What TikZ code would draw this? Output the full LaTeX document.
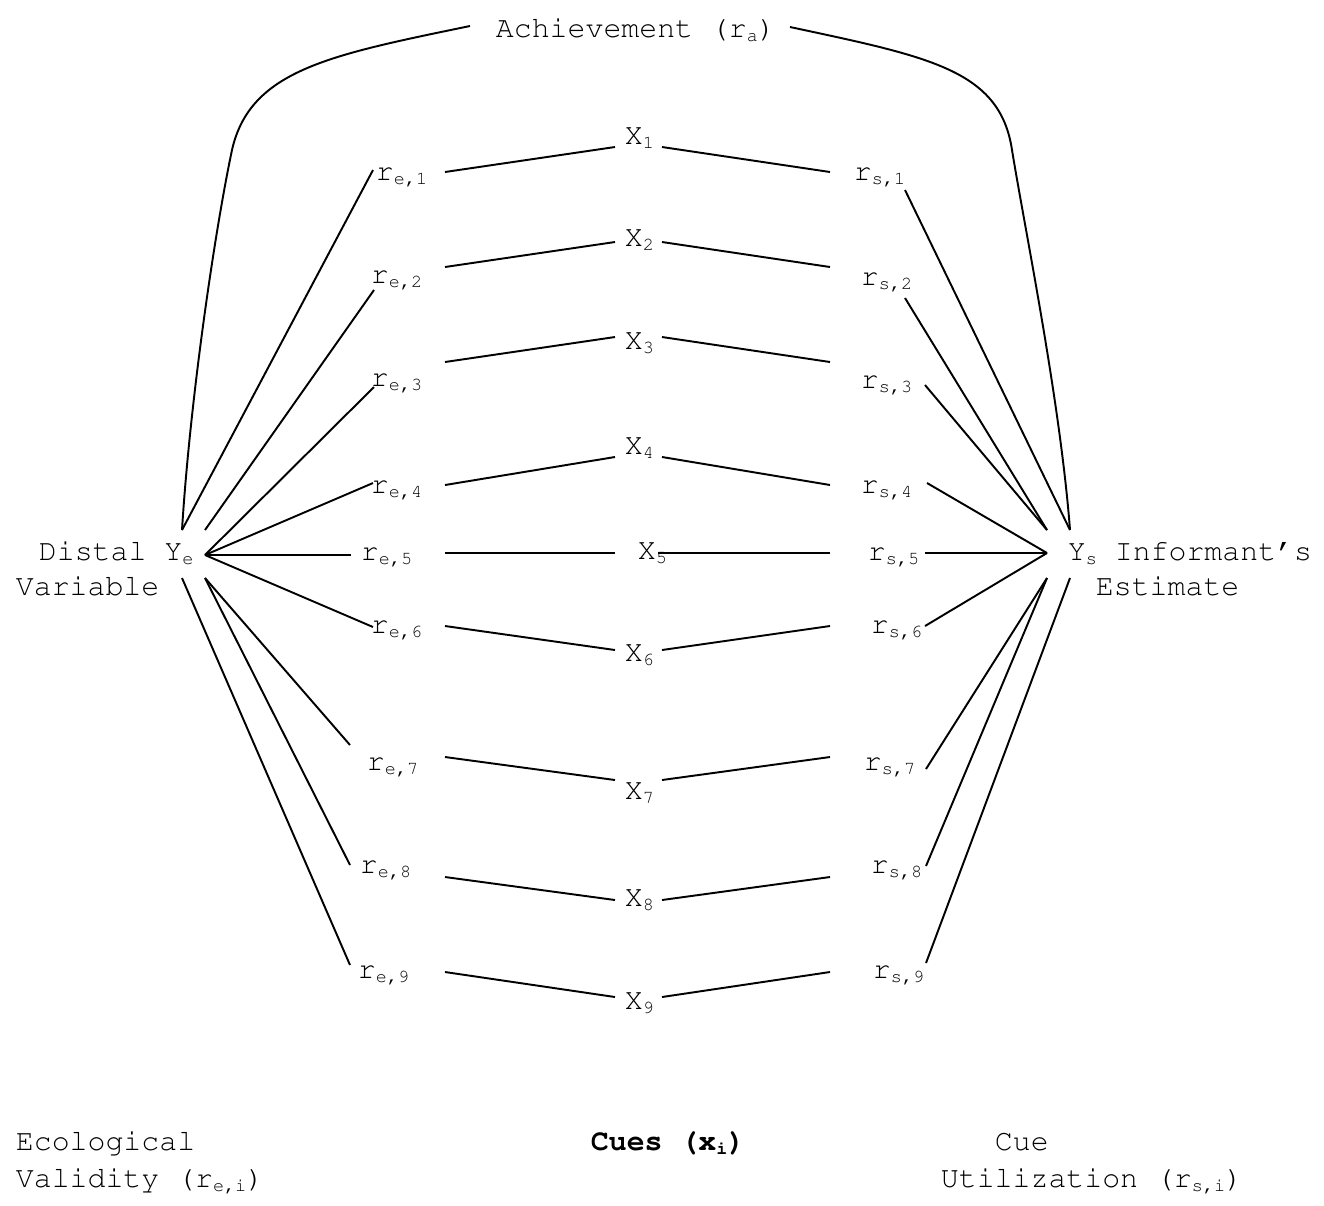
\documentclass[tikz,border=0pt]{standalone}
\usepackage[T1]{fontenc}
\usepackage{courier}
\renewcommand{\familydefault}{\ttdefault}
\usepackage{tikz}

\newcommand{\lowsub}[1]{\raisebox{-2.5pt}{\fontsize{10.5}{12}\selectfont #1}}

\begin{document}
\begin{tikzpicture}[x=0.02cm,y=-0.02cm,line width=1.1pt]
    \tikzstyle{txt}=[inner sep=0pt,anchor=base west,font=\fontsize{17}{21}\selectfont]
    \useasboundingbox (0,0) rectangle (1324,1205);

    \node[txt] (ach) at (495,37) {Achievement (r\lowsub{a})};
    \node[txt] (distal) at (38,560) {Distal Y\lowsub{e}};
    \node[txt] (var) at (15,595) {Variable};
    \node[txt] (inf) at (1067,560) {Y\lowsub{s} Informant's};
    \node[txt] (est) at (1095,595) {Estimate};

    \foreach \num/\x/\y in {1/624/144, 2/624/246, 3/624/349, 4/624/454, 5/637/559, 6/624/661, 7/624/799, 8/624/906, 9/624/1009}
        \node[txt] (X-\num) at (\x,\y) {X\lowsub{\num}};

    \foreach \num/\x/\y in {1/375/180, 2/370/283, 3/370/386, 4/370/493, 5/360/560, 6/370/633, 7/366/770, 8/359/873, 9/357/978}
        \node[txt] (RE-\num) at (\x,\y) {r\lowsub{e,\num}};

    \foreach \num/\x/\y in {1/853/180, 2/860/285, 3/860/388, 4/860/493, 5/867/560, 6/870/633, 7/863/770, 8/870/873, 9/872/978}
        \node[txt] (RS-\num) at (\x,\y) {r\lowsub{s,\num}};

    \foreach \num/\ye/\yx/\ys/\xr in {1/172/147/172/662, 2/267/242/267/662, 3/362/337/362/662, 4/485/457/485/662, 5/553/553/553/658, 6/626/650/626/662, 7/757/780/757/662, 8/877/900/877/662, 9/972/997/972/662}
    {
        \coordinate (EL-\num) at (445,\ye);
        \coordinate (XL-\num) at (615,\yx);
        \coordinate (XR-\num) at (\xr,\yx);
        \coordinate (SR-\num) at (830,\ys);
        \draw (EL-\num) -- (XL-\num);
        \draw (XR-\num) -- (SR-\num);
    }

    % fan round Y_e
    \foreach \num/\xa/\ya/\xb/\yb in {1/182/530/373/170, 2/205/530/374/290, 3/205/555/374/387, 4/205/555/373/483, 5/205/555/351/555, 6/205/555/373/627, 7/205/578/350/745, 8/205/578/350/865, 9/182/578/350/965}
    {
        \coordinate (YE-\num) at (\xa,\ya);
        \coordinate (EF-\num) at (\xb,\yb);
        \draw (YE-\num) -- (EF-\num);
    }

    % fan round Y_s
    \foreach \num/\xa/\ya/\xb/\yb in {1/905/190/1070/530, 2/905/298/1047/530, 3/925/385/1047/530, 4/927/483/1047/553, 5/925/553/1047/553, 6/925/626/1047/553, 7/926/769/1047/578, 8/926/866/1047/578, 9/926/963/1070/578}
    {
        \coordinate (SF-\num) at (\xa,\ya);
        \coordinate (YS-\num) at (\xb,\yb);
        \draw (SF-\num) -- (YS-\num);
    }

    \coordinate (ach-l) at (470,26);
    \coordinate (ach-r) at (790,27);
    \draw (ach-l) .. controls (330,55) and (250,70) .. (232,150) .. controls (215,230) and (190,400) .. (YE-1);
    \draw (ach-r) .. controls (930,57) and (1000,70) .. (1012,150) .. controls (1025,230) and (1060,400) .. (YS-1);

    \node[txt] (eco) at (15,1150) {Ecological};
    \node[txt] (val) at (15,1187) {Validity (r\lowsub{e,i})};
    \node[txt,font=\fontsize{17}{21}\selectfont\bfseries] (cues) at (590,1150) {Cues (x\lowsub{\bfseries i})};
    \node[txt] (cue) at (994,1150) {Cue};
    \node[txt] (util) at (940,1187) {Utilization (r\lowsub{s,i})};
\end{tikzpicture}
\end{document}
